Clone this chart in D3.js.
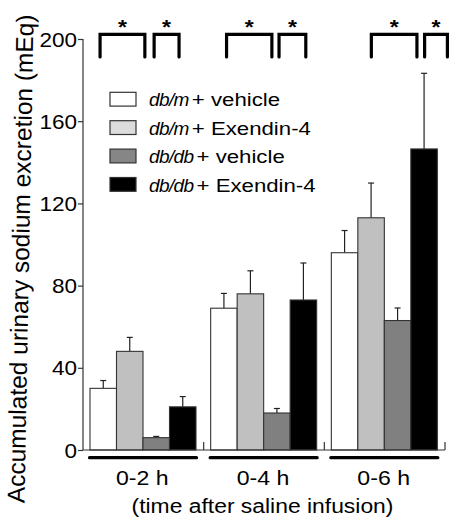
<!DOCTYPE html>
<html>
<head>
<meta charset="utf-8">
<script src="https://cdn.jsdelivr.net/npm/d3@7"></script>
<style>
  html, body { margin: 0; padding: 0; background: #fff; }
  svg { display: block; }
  svg text { font-family: "Liberation Sans", Arial, sans-serif; }
</style>
</head>
<body>
<svg id="chart" width="453" height="525"></svg>
<script>
// ---- data ----
const categories = ["0-2 h", "0-4 h", "0-6 h"];
const seriesKeys = ["dbmVehicle", "dbmExendin", "dbdbVehicle", "dbdbExendin"];
const seriesStrain = ["db/m", "db/m", "db/db", "db/db"];
const seriesTreatment = ["vehicle", "Exendin-4", "vehicle", "Exendin-4"];
const dbmVehicle = [30, 69, 96];
const dbmExendin = [48, 76, 113];
const dbdbVehicle = [6, 18, 63];
const dbdbExendin = [21, 73, 146.5];
const dbmVehicleErr = [3.8, 7.2, 10.8];
const dbmExendinErr = [6.8, 11.2, 16.9];
const dbdbVehicleErr = [0.6, 2.2, 6.1];
const dbdbExendinErr = [5, 18, 36.8];
const yTicks = [0, 40, 80, 120, 160, 200];
const yLabel = "Accumulated urinary sodium excretion (mEq)";
const xLabel = "(time after saline infusion)";
// significance brackets per group, in bar-slot units [from, to]
const bracketSpans = [
  [[0.38, 2.07], [2.42, 3.36]],
  [[0.6, 2.31], [2.58, 3.59]],
  [[1.51, 3.23], [3.52, 4.38]]
];
const sigLabel = "*";

const means = [dbmVehicle, dbmExendin, dbdbVehicle, dbdbExendin];
const errs = [dbmVehicleErr, dbmExendinErr, dbdbVehicleErr, dbdbExendinErr];
const colors = ["#ffffff", "#c0c0c0", "#808080", "#000000"];
const legendColors = ["#ffffff", "#dcdcdc", "#868686", "#000000"];
const FONT = "'Liberation Sans', Arial, sans-serif";

const svg = d3.select("#chart");
const sx = 1.1; // horizontal stretch of lettering

const x0 = d3.scaleBand().domain(categories).range([83, 445]).padding(0);
const x1 = d3.scaleBand().domain(seriesKeys).range([7, 113]).padding(0);
const bw = x1.bandwidth();
const y = d3.scaleLinear().domain([0, 200]).range([450, 39]);

const rows = [];
categories.forEach((c, ci) => {
  seriesKeys.forEach((k, si) => {
    rows.push({ c, k, si, v: means[si][ci], e: errs[si][ci] });
  });
});

// error bars
const eg = svg.append("g").attr("stroke", "#222").attr("stroke-width", 1.2);
rows.forEach(d => {
  const cx = x0(d.c) + x1(d.k) + bw / 2;
  eg.append("line").attr("x1", cx).attr("x2", cx).attr("y1", y(d.v)).attr("y2", y(d.v + d.e));
  eg.append("line").attr("x1", cx - 3).attr("x2", cx + 3).attr("y1", y(d.v + d.e)).attr("y2", y(d.v + d.e));
});

// bars
svg.append("g").selectAll("rect").data(rows).join("rect")
  .attr("x", d => x0(d.c) + x1(d.k))
  .attr("y", d => y(d.v))
  .attr("width", bw)
  .attr("height", d => y(0) - y(d.v))
  .attr("fill", d => colors[d.si])
  .attr("stroke", "#333")
  .attr("stroke-width", 1.1);

// y axis
const yAxis = svg.append("g").attr("transform", "translate(83,0)")
  .call(d3.axisLeft(y).tickValues(yTicks).tickSize(5).tickPadding(0).tickFormat(d3.format("d")));
yAxis.attr("font-family", FONT).attr("font-size", null);
yAxis.select(".domain").attr("d", `M0,${y(200)}V${y(0)}`).attr("stroke", "#333").attr("stroke-width", 1.2);
yAxis.selectAll(".tick line").attr("stroke", "#333").attr("stroke-width", 1.2);
yAxis.selectAll(".tick text")
  .attr("x", 0).attr("dy", null)
  .style("font-family", FONT)
  .attr("font-size", 20.5).attr("fill", "#000")
  .attr("text-anchor", "end").attr("dominant-baseline", "central")
  .attr("transform", `translate(-6,0.5) scale(${sx},1)`);

// baseline with group-separating ticks
svg.append("line").attr("x1", 83).attr("x2", 445).attr("y1", y(0)).attr("y2", y(0))
  .attr("stroke", "#333").attr("stroke-width", 1.2);
categories.forEach(c => {
  const xe = x0(c) + x0.bandwidth();
  svg.append("line").attr("x1", xe).attr("x2", xe).attr("y1", y(0)).attr("y2", y(0) - 8)
    .attr("stroke", "#333").attr("stroke-width", 1.2);
});

// group underlines and labels
categories.forEach(c => {
  svg.append("line")
    .attr("x1", x0(c) + x1.range()[0] - 0.5).attr("x2", x0(c) + x1.range()[1] + 0.5)
    .attr("y1", 457.7).attr("y2", 457.7)
    .attr("stroke", "#000").attr("stroke-width", 3.2).attr("stroke-linecap", "round");
  svg.append("text")
    .attr("transform", `translate(${x0(c) + x0.bandwidth() / 2 - 1},485) scale(${sx},1)`)
    .attr("text-anchor", "middle").attr("font-size", 21).attr("fill", "#000")
    .text(c);
});

// x title
svg.append("text")
  .attr("transform", `translate(262.5,513) scale(${sx},1)`)
  .attr("text-anchor", "middle").attr("font-size", 20.8).attr("fill", "#000")
  .text(xLabel);

// y title
svg.append("text")
  .attr("transform", "translate(29,259) rotate(-88.93)")
  .attr("text-anchor", "middle").attr("font-size", 24.5).attr("fill", "#000")
  .text(yLabel);

// significance brackets
const bg = svg.append("g").attr("stroke", "#000").attr("stroke-width", 3.2)
  .attr("fill", "none").attr("stroke-linecap", "round").attr("stroke-linejoin", "miter");
categories.forEach((c, ci) => {
  bracketSpans[ci].forEach(([a, b]) => {
    const xa = x0(c) + x1.range()[0] + a * bw;
    const xb = x0(c) + x1.range()[0] + b * bw;
    bg.append("path").attr("d", `M${xa},57 V34.3 H${xb} V57`);
    svg.append("text")
      .attr("transform", `translate(${(xa + xb) / 2},34) scale(${sx},1)`)
      .attr("text-anchor", "middle").attr("font-size", 21).attr("font-weight", "bold")
      .attr("fill", "#000").text(sigLabel);
  });
});

// legend
const lg = svg.append("g");
seriesKeys.forEach((k, i) => {
  const top = 92.3 + i * 28.4;
  lg.append("rect").attr("x", 110).attr("y", top).attr("width", 26).attr("height", 13.8)
    .attr("fill", legendColors[i]).attr("stroke", "#333").attr("stroke-width", 1.2);
  const s = lg.append("text")
    .attr("x", 149).attr("y", top + 14)
    .attr("font-size", 19).attr("font-style", "italic")
    .attr("letter-spacing", -0.6).attr("fill", "#000")
    .text(seriesStrain[i]);
  const sw = s.node().getComputedTextLength();
  lg.append("text")
    .attr("transform", `translate(${149 + sw + 3},${top + 14}) scale(1.2,1)`)
    .attr("font-size", 18.5).attr("fill", "#000")
    .text("+ " + seriesTreatment[i]);
});
</script>
</body>
</html>
